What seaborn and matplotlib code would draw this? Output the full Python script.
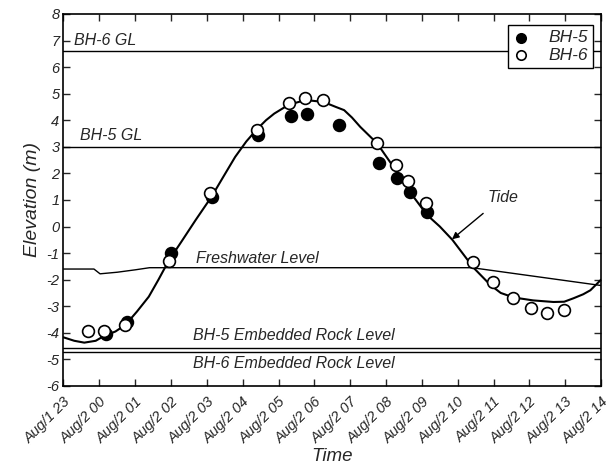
import matplotlib
matplotlib.use("Agg")
import matplotlib.pyplot as plt
import seaborn as sns
import pandas as pd

# ---- data ----
tick_labels = ["Aug/1 23", "Aug/2 00", "Aug/2 01", "Aug/2 02", "Aug/2 03", "Aug/2 04",
               "Aug/2 05", "Aug/2 06", "Aug/2 07", "Aug/2 08", "Aug/2 09", "Aug/2 10",
               "Aug/2 11", "Aug/2 12", "Aug/2 13", "Aug/2 14"]

tide_h = [0, 0.3, 0.58, 0.9, 1.13, 1.45, 1.73, 2.05, 2.38, 2.65, 2.93, 3.3, 3.69, 4.13,
          4.45, 4.79, 5.1, 5.39, 5.65, 5.88, 6.28, 6.75, 7.25, 7.6, 7.83, 8.05, 8.28, 8.75,
          9.27, 9.66, 10.14, 10.5, 10.85, 11.44, 11.91, 12.2, 12.56, 13.1, 13.67, 13.97,
          14.23, 14.5, 14.7, 15.0]
tide_y = [-4.17, -4.3, -4.37, -4.3, -4.12, -3.95, -3.7, -3.2, -2.64, -2.0, -1.3, -0.55,
          0.25, 1.12, 1.85, 2.62, 3.2, 3.65, 4.0, 4.25, 4.58, 4.76, 4.69, 4.5, 4.38, 4.1,
          3.75, 3.13, 2.12, 1.31, 0.44, 0.0, -0.5, -1.55, -2.2, -2.5, -2.67, -2.78, -2.84,
          -2.83, -2.7, -2.55, -2.4, -2.0]

fw_h = [0, 0.85, 1.02, 1.5, 2.0, 2.4, 5.0, 8.0, 11.4, 15.0]
fw_y = [-1.6, -1.6, -1.78, -1.72, -1.63, -1.55, -1.55, -1.55, -1.55, -2.22]

bh5_h = [1.18, 1.76, 3.0, 4.13, 5.44, 6.34, 6.8, 7.69, 8.81, 9.3, 9.66, 10.14]
bh5_y = [-4.05, -3.58, -1.01, 1.12, 3.44, 4.17, 4.25, 3.82, 2.4, 1.83, 1.31, 0.56]

bh6_h = [0.67, 1.13, 1.73, 2.93, 4.08, 5.39, 6.28, 6.75, 7.25, 8.75, 9.27, 9.62, 10.11,
         11.43, 11.97, 12.55, 13.04, 13.48, 13.97]
bh6_y = [-3.95, -3.92, -3.7, -1.29, 1.27, 3.65, 4.63, 4.82, 4.76, 3.13, 2.31, 1.71, 0.87,
         -1.32, -2.08, -2.68, -3.05, -3.26, -3.14]

ref_levels = {"BH-6 GL": 6.6, "BH-5 GL": 3.0,
              "BH-5 Embedded Rock Level": -4.58, "BH-6 Embedded Rock Level": -4.71}

# ---- plot ----
sns.set_theme(style="ticks")
plt.rcParams["font.family"] = ["Liberation Sans", "DejaVu Sans"]
plt.rcParams["font.style"] = "italic"

fig = plt.figure(figsize=(6.14, 4.65), dpi=100)
ax = fig.add_axes([0.1034, 0.170, 0.8756, 0.800])

for name, lv in ref_levels.items():
    ax.axhline(lv, color="black", lw=1.0, zorder=1)

tide = pd.DataFrame({"h": tide_h, "y": tide_y})
fw = pd.DataFrame({"h": fw_h, "y": fw_y})
sns.lineplot(data=tide, x="h", y="y", color="black", lw=1.5, ax=ax, zorder=2, sort=False)
sns.lineplot(data=fw, x="h", y="y", color="black", lw=1.0, ax=ax, zorder=2, sort=False)

d5 = pd.DataFrame({"h": bh5_h, "y": bh5_y})
d6 = pd.DataFrame({"h": bh6_h, "y": bh6_y})
sns.scatterplot(data=d5, x="h", y="y", s=72, color="black", edgecolor="black",
                linewidth=1.2, ax=ax, zorder=3, label="BH-5")
sns.scatterplot(data=d6, x="h", y="y", s=72, color="white", edgecolor="black",
                linewidth=1.2, ax=ax, zorder=4, label="BH-6")

ax.set_xlim(0, 15)
ax.set_ylim(-6, 8)
ax.set_xticks(range(len(tick_labels)))
ax.set_xticklabels(tick_labels, rotation=45, ha="right", rotation_mode="anchor",
                   fontsize=10.5, style="italic")
ax.set_yticks(range(-6, 9))
ax.set_yticklabels([str(v) for v in range(-6, 9)], fontsize=10.5, style="italic")
ax.tick_params(direction="in", top=True, right=True, length=5, width=1, pad=3)
ax.tick_params(axis="x", pad=6)
for sp in ax.spines.values():
    sp.set_visible(True)
    sp.set_linewidth(1.2)
    sp.set_color("black")

ax.set_xlabel("Time", fontsize=13.5, style="italic", labelpad=2)
ax.set_ylabel("Elevation (m)", fontsize=14, style="italic", labelpad=4)

tfs = 11.5
ax.text(0.3, 7.0, "BH-6 GL", fontsize=tfs, style="italic", va="center", ha="left")
ax.text(0.47, 3.44, "BH-5 GL", fontsize=tfs, style="italic", va="center", ha="left")
ax.text(3.7, -1.2, "Freshwater Level", fontsize=tfs, style="italic", va="center", ha="left")
ax.text(3.6, -4.12, "BH-5 Embedded Rock Level", fontsize=tfs, style="italic",
        va="center", ha="left")
ax.text(3.62, -5.14, "BH-6 Embedded Rock Level", fontsize=tfs, style="italic",
        va="center", ha="left")
ax.annotate("Tide", xy=(10.84, -0.48), xytext=(12.25, 1.1), fontsize=tfs, style="italic",
            ha="center", va="center",
            arrowprops=dict(arrowstyle="-|>", color="black", lw=1.0,
                            shrinkA=6, shrinkB=0, mutation_scale=10))

leg = ax.legend(loc="upper right", bbox_to_anchor=(0.985, 0.970), fontsize=12.5,
                frameon=True, fancybox=False, edgecolor="black", facecolor="white",
                framealpha=1, handletextpad=1.1, borderaxespad=0.0, borderpad=0.3,
                markerscale=0.8, labelspacing=0.12, handlelength=0.9)
leg.get_frame().set_linewidth(1.0)
for t in leg.get_texts():
    t.set_style("italic")

fig.savefig("out.png", dpi=100)
